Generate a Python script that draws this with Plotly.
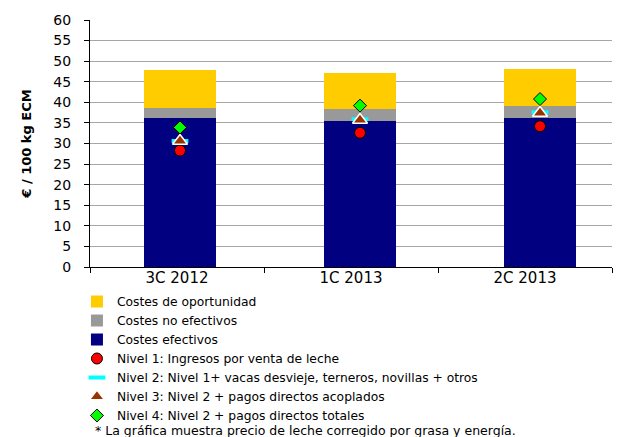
import plotly.graph_objects as go

categories = ["3C 2012", "1C 2013", "2C 2013"]
costes_efectivos = [36.1, 35.5, 36.3]
costes_no_efectivos = [2.6, 2.8, 2.8]
costes_oportunidad = [9.2, 8.9, 9.0]
nivel1 = [28.3, 32.6, 34.2]
nivel2 = [30.6, 35.9, 37.6]
nivel3 = [30.6, 35.7, 37.4]
nivel4 = [33.9, 39.2, 40.8]
y_ticks = list(range(0, 61, 5))
label_positions = [0, 1, 2]
boundary_positions = [-0.5, 0.5, 1.5, 2.5]

FONT = "DejaVu Sans, Liberation Sans, Arial, sans-serif"

fig = go.Figure()
fig.add_trace(go.Bar(x=categories, y=costes_efectivos, name="Costes efectivos",
                     marker=dict(color="#000080", line=dict(width=0)), legendrank=3))
fig.add_trace(go.Bar(x=categories, y=costes_no_efectivos, name="Costes no efectivos",
                     marker=dict(color="#999999", line=dict(width=0)), legendrank=2))
fig.add_trace(go.Bar(x=categories, y=costes_oportunidad, name="Costes de oportunidad",
                     marker=dict(color="#FFCC00", line=dict(width=0)), legendrank=1))
fig.add_trace(go.Scatter(x=categories, y=nivel1, mode="markers",
                         name="Nivel 1: Ingresos por venta de leche",
                         marker=dict(symbol="circle", size=11, color="#FF0000",
                                     line=dict(color="black", width=1)), legendrank=4))
fig.add_trace(go.Scatter(x=categories, y=nivel2, mode="markers",
                         name="Nivel 2: Nivel 1+ vacas desvieje, terneros, novillas + otros",
                         marker=dict(symbol="line-ew", size=12, color="#00FFFF",
                                     line=dict(color="#00FFFF", width=4)), legendrank=5))
fig.add_trace(go.Scatter(x=categories, y=nivel3, mode="markers",
                         name="Nivel 3: Nivel 2 + pagos directos acoplados",
                         marker=dict(symbol="triangle-up", size=13, color="#993300",
                                     line=dict(color="white", width=1.5)), legendrank=6))
fig.add_trace(go.Scatter(x=categories, y=nivel4, mode="markers",
                         name="Nivel 4: Nivel 2 + pagos directos totales",
                         marker=dict(symbol="diamond", size=10, color="#00FF00",
                                     line=dict(color="black", width=1)), legendrank=7))
# helper axes: category labels and boundary tick marks (Excel spacing)
fig.add_trace(go.Scatter(x=label_positions, y=[None] * 3, xaxis="x2", mode="markers",
                         showlegend=False, hoverinfo="skip"))
fig.add_trace(go.Scatter(x=boundary_positions, y=[None] * 4, xaxis="x3", mode="markers",
                         showlegend=False, hoverinfo="skip"))

fig.update_layout(
    width=620, height=437,
    margin=dict(l=90, r=8, t=20, b=170, autoexpand=False),
    barmode="stack", bargap=0.6,
    plot_bgcolor="white", paper_bgcolor="white",
    font=dict(family=FONT, color="black"),
    showlegend=True,
    legend=dict(x=-0.025, y=-0.081, xanchor="left", yanchor="top",
                font=dict(size=12.3, family=FONT), tracegroupgap=0,
                itemwidth=30, bgcolor="rgba(0,0,0,0)", traceorder="normal"),
    xaxis=dict(type="category", range=[-0.5, 2.4], showline=True, linecolor="black",
               linewidth=1, ticks="", showticklabels=False, showgrid=False),
    xaxis2=dict(overlaying="x", anchor="y", side="bottom", type="linear",
                range=[-0.5, 2.5], tickvals=label_positions, ticktext=categories,
                ticks="", tickfont=dict(size=15), showgrid=False, showline=False,
                zeroline=False),
    xaxis3=dict(overlaying="x", anchor="y", side="bottom", type="linear",
                range=[-0.5, 2.5], tickvals=boundary_positions,
                ticktext=[""] * 4, ticks="outside", ticklen=5, tickcolor="black",
                showgrid=False, showline=False, zeroline=False),
    yaxis=dict(range=[0, 60], tickvals=y_ticks, showline=True, linecolor="black",
               linewidth=1, ticks="outside", ticklen=5, tickcolor="black",
               tickfont=dict(size=14), ticklabelstandoff=10,
               showgrid=True, gridcolor="#A6A6A6",
               gridwidth=1, zeroline=False,
               title=dict(text="<b>€ / 100 kg ECM</b>", font=dict(size=13), standoff=18)),
    annotations=[dict(text="* La gráfica muestra precio de leche corregido por grasa y energía.",
                      xref="paper", yref="paper", x=0.005, y=-0.660,
                      xanchor="left", yanchor="middle", showarrow=False,
                      font=dict(size=12.5, family=FONT))],
)

fig.write_html("out.html", config={"displayModeBar": False},
               post_script="document.body.style.margin='0';")
